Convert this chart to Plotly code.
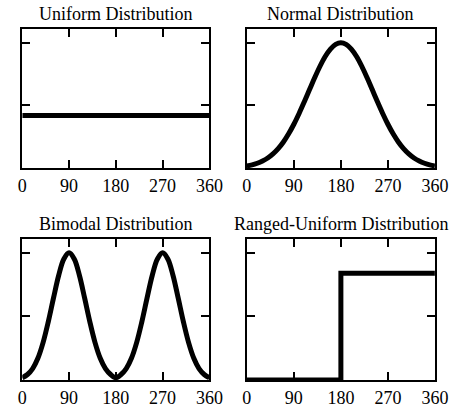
import plotly.graph_objects as go

# ---- data ----
angles = [0, 10, 20, 30, 40, 50, 60, 70, 80, 90, 100, 110, 120, 130, 140, 150, 160, 170, 180,
          190, 200, 210, 220, 230, 240, 250, 260, 270, 280, 290, 300, 310, 320, 330, 340, 350, 360]

uniform_x = [0, 360]
uniform_y = [0.42, 0.42]

normal_y = [0.018, 0.026, 0.039, 0.057, 0.081, 0.114, 0.156, 0.209, 0.274, 0.350,
            0.436, 0.529, 0.626, 0.722, 0.812, 0.890, 0.949, 0.987, 1.0,
            0.987, 0.949, 0.890, 0.812, 0.722, 0.626, 0.529, 0.436, 0.350,
            0.274, 0.209, 0.156, 0.114, 0.081, 0.057, 0.039, 0.026, 0.018]

bimodal_y = [0.019, 0.044, 0.091, 0.172, 0.295, 0.458, 0.644, 0.822, 0.952, 1.0,
             0.952, 0.822, 0.644, 0.458, 0.295, 0.172, 0.091, 0.044, 0.019,
             0.044, 0.091, 0.172, 0.295, 0.458, 0.644, 0.822, 0.952, 1.0,
             0.952, 0.822, 0.644, 0.458, 0.295, 0.172, 0.091, 0.044, 0.019]

ranged_x = [0, 180, 180, 360]
ranged_y = [0.0, 0.0, 0.84, 0.84]

titles = ["Uniform Distribution", "Normal Distribution",
          "Bimodal Distribution", "Ranged-Uniform Distribution"]
x_ticks = [0, 90, 180, 270, 360]
y_ticks = [0, 0.5, 1.0]

# ---- layout geometry ----
W, H = 471, 408
x_domains = [[18 / W, 213 / W], [252 / W, 448 / W]]
y_domains = [[239 / H, 379 / H], [26 / H, 168 / H]]
FONT = "Liberation Serif, Times New Roman, serif"

fig = go.Figure()

series = [
    (uniform_x, uniform_y, "linear"),
    (angles, normal_y, "spline"),
    (angles, bimodal_y, "spline"),
    (ranged_x, ranged_y, "linear"),
]

for i, (xs, ys, shape) in enumerate(series):
    r, c = divmod(i, 2)
    xa = "x" if i == 0 else f"x{i + 1}"
    ya = "y" if i == 0 else f"y{i + 1}"
    fig.add_trace(go.Scatter(x=xs, y=ys, mode="lines",
                             line=dict(color="black", width=5, shape=shape),
                             xaxis=xa, yaxis=ya, showlegend=False, hoverinfo="skip"))
    key_x = "xaxis" if i == 0 else f"xaxis{i + 1}"
    key_y = "yaxis" if i == 0 else f"yaxis{i + 1}"
    fig.layout[key_x] = dict(domain=x_domains[c], anchor=ya, range=[0, 360],
                             tickvals=x_ticks, ticktext=[str(v) for v in x_ticks],
                             ticks="inside", ticklen=8, tickwidth=1.5, tickcolor="black",
                             showline=True, linewidth=2, linecolor="black", mirror="ticks",
                             showgrid=False, zeroline=False,
                             tickfont=dict(family=FONT, size=18, color="black"))
    fig.layout[key_y] = dict(domain=y_domains[r], anchor=xa, range=[0, 1.11],
                             tickvals=y_ticks, showticklabels=False,
                             ticks="inside", ticklen=8, tickwidth=1.5, tickcolor="black",
                             showline=True, linewidth=2, linecolor="black", mirror="ticks",
                             showgrid=False, zeroline=False)
    fig.add_annotation(text=titles[i], xref="paper", yref="paper",
                       x=sum(x_domains[c]) / 2, y=y_domains[r][1],
                       xanchor="center", yanchor="bottom", yshift=3, showarrow=False,
                       font=dict(family=FONT, size=18, color="black"))

fig.update_layout(width=W, height=H, margin=dict(l=0, r=0, t=0, b=0),
                  paper_bgcolor="white", plot_bgcolor="white")

fig.write_html("out.html")
